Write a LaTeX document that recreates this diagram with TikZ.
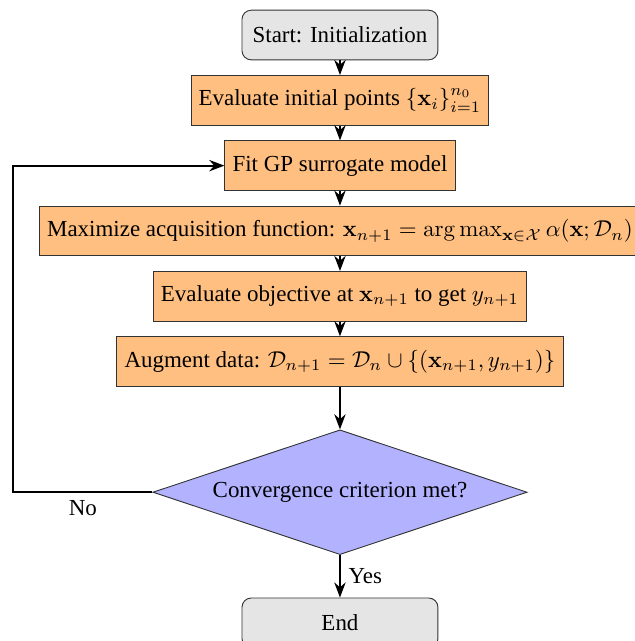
\documentclass[tikz,border=0pt]{standalone}
\usepackage[no-math]{fontspec}
\setmainfont{Liberation Serif}
\usepackage{amsmath}
\usetikzlibrary{arrows.meta,shapes.geometric,positioning}
\tikzset{
  startstop/.style={rectangle, rounded corners, minimum width=3cm, minimum height=0.76cm, draw=black!80, fill=gray!20},
  process/.style={rectangle, minimum height=0.76cm, draw=black!80, fill=orange!50},
  decision/.style={diamond, aspect=3, minimum width=5.73cm, minimum height=1.91cm, inner sep=0pt, draw=black!80, fill=blue!30},
  arrow/.style={thick,-{Stealth}},
}

\begin{document}
\begin{tikzpicture}[node distance=1cm, on grid]
  \useasboundingbox (-5.205,-9.278) rectangle (4.516,0.536);
  % steps of the loop
  \node[startstop] (start) {Start: Initialization};
  \node[process, below=of start] (init) {Evaluate initial points $\{\mathbf{x}_i\}_{i=1}^{n_0}$};
  \node[process, below=of init] (fit) {Fit GP surrogate model};
  \node[process, below=of fit] (acq) {Maximize acquisition function: $\mathbf{x}_{n+1} = \arg\max_{\mathbf{x}\in\mathcal{X}} \alpha(\mathbf{x};\mathcal{D}_n)$};
  \node[process, below=of acq] (eval) {Evaluate objective at $\mathbf{x}_{n+1}$ to get $y_{n+1}$};
  \node[process, below=of eval] (aug) {Augment data: $\mathcal{D}_{n+1} = \mathcal{D}_n \cup \{(\mathbf{x}_{n+1}, y_{n+1})\}$};
  \node[decision, below=2cm of aug] (conv) {Convergence criterion met?};
  \node[startstop, below=2cm of conv] (stop) {End};
  \coordinate[left=5cm of conv] (back);
  % connectors
  \draw[arrow] (start) -- (init);
  \draw[arrow] (init) -- (fit);
  \draw[arrow] (fit) -- (acq);
  \draw[arrow] (acq) -- (eval);
  \draw[arrow] (eval) -- (aug);
  \draw[arrow] (aug) -- (conv);
  \draw[arrow] (conv) -- node[right] {Yes} (stop);
  \draw[arrow] (conv.west) -- node[below] {No} (back) |- (fit.west);
\end{tikzpicture}
\end{document}
